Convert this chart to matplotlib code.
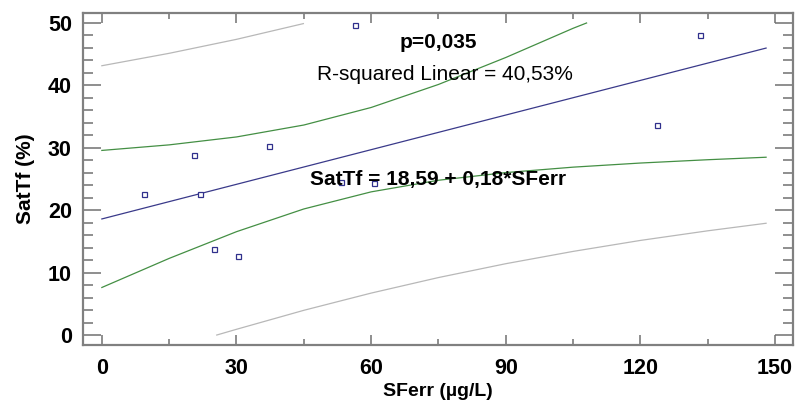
import matplotlib
matplotlib.use("Agg")
import matplotlib.pyplot as plt
from matplotlib.ticker import MultipleLocator

plt.rcParams['font.family'] = ['Liberation Sans', 'DejaVu Sans']

# observed points
sferr = [9.4, 20.5, 21.8, 37.3, 25.0, 30.4, 56.4, 53.2, 60.6, 133.3, 123.7]
sattf = [22.6, 28.8, 22.6, 30.3, 13.8, 12.7, 49.7, 24.5, 24.4, 48.1, 33.6]

# fit line
fit_x = [0, 148]
fit_y = [18.6, 45.98]

# 95% CI of the mean (green)
ci_up_x = [0, 15, 30, 45, 60, 75, 90, 105, 108]
ci_up_y = [29.58, 30.47, 31.74, 33.65, 36.46, 40.15, 44.47, 49.15, 50.0]
ci_lo_x = [0, 15, 30, 45, 60, 75, 90, 105, 120, 135, 148]
ci_lo_y = [7.62, 12.28, 16.56, 20.2, 22.94, 24.8, 26.03, 26.9, 27.56, 28.09, 28.49]

# 95% prediction interval (gray)
pi_up_x = [0, 15, 30, 44.9]
pi_up_y = [43.15, 45.14, 47.38, 49.9]
pi_lo_x = [25.6, 30, 45, 60, 75, 90, 105, 120, 135, 148]
pi_lo_y = [0.0, 0.92, 3.96, 6.72, 9.21, 11.43, 13.4, 15.16, 16.7, 17.91]

fig = plt.figure(figsize=(7.95, 4.05), dpi=100)
ax = fig.add_axes([0.1044, 0.1481, 0.8931, 0.8198])

ax.plot(pi_up_x, pi_up_y, color='#b8b8b8', lw=0.9)
ax.plot(pi_lo_x, pi_lo_y, color='#b8b8b8', lw=0.9)
ax.plot(ci_up_x, ci_up_y, color='#448f44', lw=0.9)
ax.plot(ci_lo_x, ci_lo_y, color='#448f44', lw=0.9)
ax.plot(fit_x, fit_y, color='#3a3a8a', lw=0.9)
ax.plot(sferr, sattf, linestyle='none', marker='s', ms=3.6, mfc='white',
        mec='#30308c', mew=0.9)

ax.text(75, 46.8, "p=0,035", ha='center', va='center', fontsize=15, fontweight='bold')
ax.text(76.5, 41.7, "R-squared Linear = 40,53%", ha='center', va='center', fontsize=15)
ax.text(75, 25.0, "SatTf = 18,59 + 0,18*SFerr", ha='center', va='center', fontsize=15,
        fontweight='bold')

ax.set_xlim(-4.2, 154)
ax.set_ylim(-1.6, 51.6)
ax.xaxis.set_major_locator(MultipleLocator(30))
ax.xaxis.set_minor_locator(MultipleLocator(15))
ax.yaxis.set_major_locator(MultipleLocator(10))
ax.yaxis.set_minor_locator(MultipleLocator(2))
ax.tick_params(axis='x', which='both', direction='in', top=True, bottom=True,
               color='#707070', width=1.1, labelsize=15.5, pad=9)
ax.tick_params(axis='x', which='major', length=7)
ax.tick_params(axis='x', which='minor', length=4.5)
ax.tick_params(axis='y', which='both', direction='in', left=True, right=True,
               color='#707070', width=1.1, labelsize=15.5, pad=8)
ax.tick_params(axis='y', which='major', length=13)
ax.tick_params(axis='y', which='minor', length=7)
for lab in ax.get_xticklabels() + ax.get_yticklabels():
    lab.set_fontweight('bold')
for sp in ax.spines.values():
    sp.set_color('#808080')
    sp.set_linewidth(1.6)

ax.set_xlabel("SFerr (µg/L)", fontsize=14, fontweight='bold', labelpad=3)
ax.set_ylabel("SatTf (%)", fontsize=15, fontweight='bold', labelpad=9)

fig.savefig("out.png", dpi=100)
